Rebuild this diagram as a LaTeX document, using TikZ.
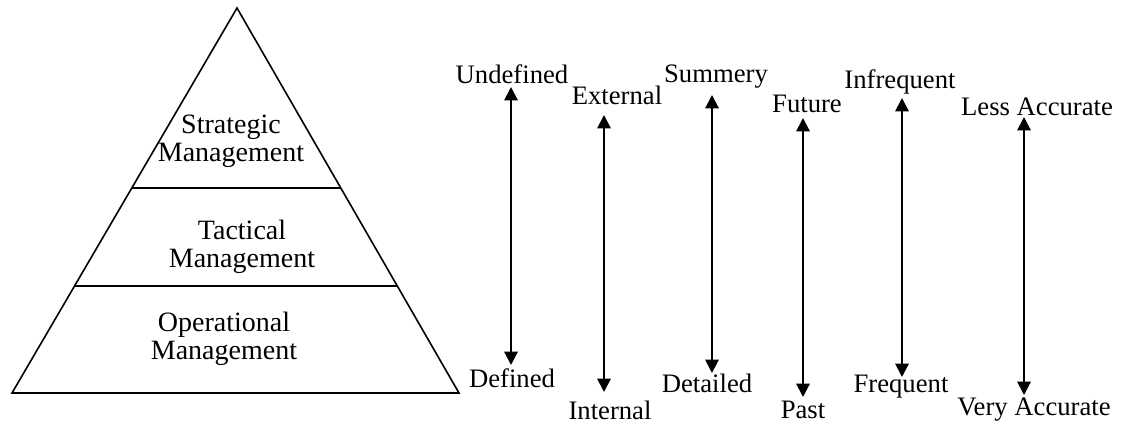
\documentclass[tikz,border=0pt]{standalone}
\usepackage{fontspec}
\setmainfont{Liberation Serif}
\usetikzlibrary{arrows.meta,calc}
\begin{document}
\begin{tikzpicture}[x=0.75pt,y=-0.75pt,
  pyr/.style={line width=1.2pt},
  lvl/.style={align=center,font=\fontsize{21}{21}\selectfont,inner sep=0pt},
  lbl/.style={font=\fontsize{20}{22}\selectfont,inner sep=0pt},
  arr/.style={line width=1.5pt,{Triangle[width=10pt,length=10pt]}-{Triangle[width=10pt,length=10pt]}}]
\useasboundingbox (0,0) rectangle (1123,428);
% pyramid
\coordinate (apex) at (237,8);
\coordinate (bl) at (12,393);
\coordinate (br) at (459,393);
\draw[pyr] (apex) -- (bl) -- (br) -- cycle;
\draw[pyr] ($(apex)!0.4675!(bl)$) -- ($(apex)!0.4675!(br)$);
\draw[pyr] ($(apex)!0.722!(bl)$) -- ($(apex)!0.722!(br)$);
\node[lvl] (s) at (231,141) {Strategic\\Management};
\node[lvl] (t) at (242,247) {Tactical\\Management};
\node[lvl] (o) at (224,339) {Operational\\Management};
% labels
\node[lbl] (l1t) at (512,74) {Undefined};
\node[lbl] (l1b) at (512,378) {Defined};
\node[lbl] (l2t) at (617,95) {External};
\node[lbl] (l2b) at (610,410) {Internal};
\node[lbl] (l3t) at (716,77) {Summery};
\node[lbl] (l3b) at (707,383) {Detailed};
\node[lbl] (l4t) at (807,104) {Future};
\node[lbl] (l4b) at (803,410) {Past};
\node[lbl] (l5t) at (900,82) {Infrequent};
\node[lbl] (l5b) at (901,387) {Frequent};
\node[lbl] (l6t) at (1037,107) {Less Accurate};
\node[lbl] (l6b) at (1034,410) {Very Accurate};
% arrow ends
\coordinate (a1t) at (511,87);  \coordinate (a1b) at (511,365);
\coordinate (a2t) at (604,115); \coordinate (a2b) at (604,392);
\coordinate (a3t) at (712,95);  \coordinate (a3b) at (712,373);
\coordinate (a4t) at (803,118); \coordinate (a4b) at (803,397);
\coordinate (a5t) at (902,98);  \coordinate (a5b) at (902,377);
\coordinate (a6t) at (1024,117);\coordinate (a6b) at (1024,395);
\foreach \i in {1,...,6} {\draw[arr] (a\i t) -- (a\i b);}
\end{tikzpicture}
\end{document}
